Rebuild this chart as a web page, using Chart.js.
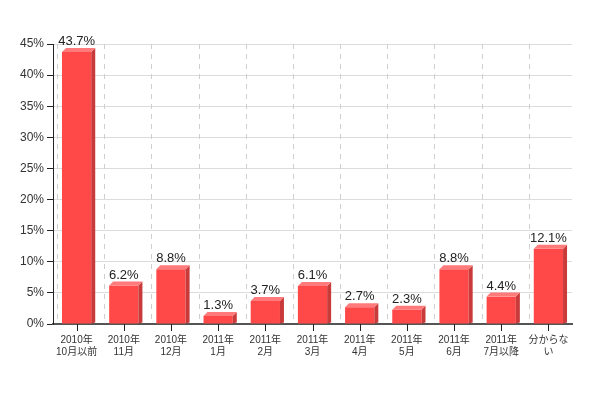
<!DOCTYPE html>
<html>
<head>
<meta charset="utf-8">
<script src="https://cdn.jsdelivr.net/npm/chart.js@4/dist/chart.umd.min.js"></script>
<style>
  html, body { margin: 0; padding: 0; background: #fff; }
  #wrap { width: 598px; height: 398px; }
</style>
</head>
<body>
<div id="wrap"><canvas id="myChart"></canvas></div>
<script>
const labels = [
  ['2010年', '10月以前'], ['2010年', '11月'], ['2010年', '12月'],
  ['2011年', '1月'], ['2011年', '2月'], ['2011年', '3月'],
  ['2011年', '4月'], ['2011年', '5月'], ['2011年', '6月'],
  ['2011年', '7月以降'], ['分からな', 'い']
];
const values = [43.7, 6.2, 8.8, 1.3, 3.7, 6.1, 2.7, 2.3, 8.8, 4.4, 12.1];
const yTicks = [0, 5, 10, 15, 20, 25, 30, 35, 40, 45];

const FONT = "'Liberation Sans', Arial, 'Noto Sans CJK JP', sans-serif";
const DEPTH = 4;

// fake 3d: darker right side + lighter top strip, then value label
const bar3d = {
  id: 'bar3d',
  afterDatasetsDraw(chart) {
    const ctx = chart.ctx;
    const meta = chart.getDatasetMeta(0);
    ctx.save();
    meta.data.forEach((bar, i) => {
      const p = bar.getProps(['x', 'y', 'base', 'width'], true);
      const l = p.x - p.width / 2, r = p.x + p.width / 2;
      ctx.fillStyle = '#c93a3a';
      ctx.beginPath();
      ctx.moveTo(r, p.y);
      ctx.lineTo(r + DEPTH, p.y - DEPTH);
      ctx.lineTo(r + DEPTH, p.base - 1);
      ctx.lineTo(r, p.base);
      ctx.closePath();
      ctx.fill();
      ctx.fillStyle = '#ff7a7a';
      ctx.beginPath();
      ctx.moveTo(l, p.y);
      ctx.lineTo(l + DEPTH, p.y - DEPTH);
      ctx.lineTo(r + DEPTH, p.y - DEPTH);
      ctx.lineTo(r, p.y);
      ctx.closePath();
      ctx.fill();

      ctx.fillStyle = '#222';
      ctx.font = '13px ' + FONT;
      ctx.textAlign = 'center';
      ctx.textBaseline = 'bottom';
      ctx.fillText(values[i].toFixed(1) + '%', p.x, p.y - DEPTH);
    });
    ctx.restore();
  }
};

new Chart(document.getElementById('myChart'), {
  type: 'bar',
  data: {
    labels: labels,
    datasets: [{
      data: values,
      backgroundColor: '#ff4848',
      borderWidth: 0,
      barPercentage: 0.62,
      categoryPercentage: 1
    }]
  },
  options: {
    responsive: true,
    maintainAspectRatio: false,
    animation: false,
    layout: { padding: { top: 44, right: 26, bottom: 30, left: 17 } },
    plugins: {
      legend: { display: false },
      tooltip: { enabled: false }
    },
    scales: {
      x: {
        offset: true,
        grid: { drawOnChartArea: false, drawTicks: false },
        border: { display: true, color: '#555', width: 2 },
        ticks: {
          color: '#333',
          font: { family: FONT, size: 10 },
          maxRotation: 0,
          autoSkip: false,
          padding: 10
        }
      },
      y: {
        min: 0,
        max: 45,
        afterBuildTicks(axis) {
          axis.ticks = yTicks.map(v => ({ value: v }));
        },
        grid: {
          color: '#dcdcdc',
          tickColor: '#222',
          tickLength: 6
        },
        border: { display: true, color: '#222', width: 1 },
        ticks: {
          color: '#333',
          font: { family: FONT, size: 12 },
          padding: 3,
          callback: v => v + '%'
        }
      }
    }
  },
  plugins: [bar3d, {
    id: 'xDash',
    // dashed vertical separators between categories
    beforeDatasetsDraw(chart) {
      const ctx = chart.ctx, xs = chart.scales.x, a = chart.chartArea;
      ctx.save();
      ctx.strokeStyle = '#cfcfcf';
      ctx.setLineDash([5, 5]);
      ctx.lineWidth = 1;
      for (let i = 0; i <= labels.length; i++) {
        const x = Math.round(xs.getPixelForValue(i) - xs.width / labels.length / 2 + DEPTH) + 0.5;
        if (x > a.right + 1) continue;
        ctx.beginPath();
        ctx.moveTo(x, a.top);
        ctx.lineTo(x, a.bottom);
        ctx.stroke();
      }
      // x tick marks below axis
      ctx.setLineDash([]);
      ctx.strokeStyle = '#222';
      for (let i = 0; i < labels.length; i++) {
        const x = Math.round(xs.getPixelForValue(i)) + 0.5;
        ctx.beginPath();
        ctx.moveTo(x, a.bottom);
        ctx.lineTo(x, a.bottom + 7);
        ctx.stroke();
      }
      ctx.restore();
    }
  }]
});
</script>
</body>
</html>
